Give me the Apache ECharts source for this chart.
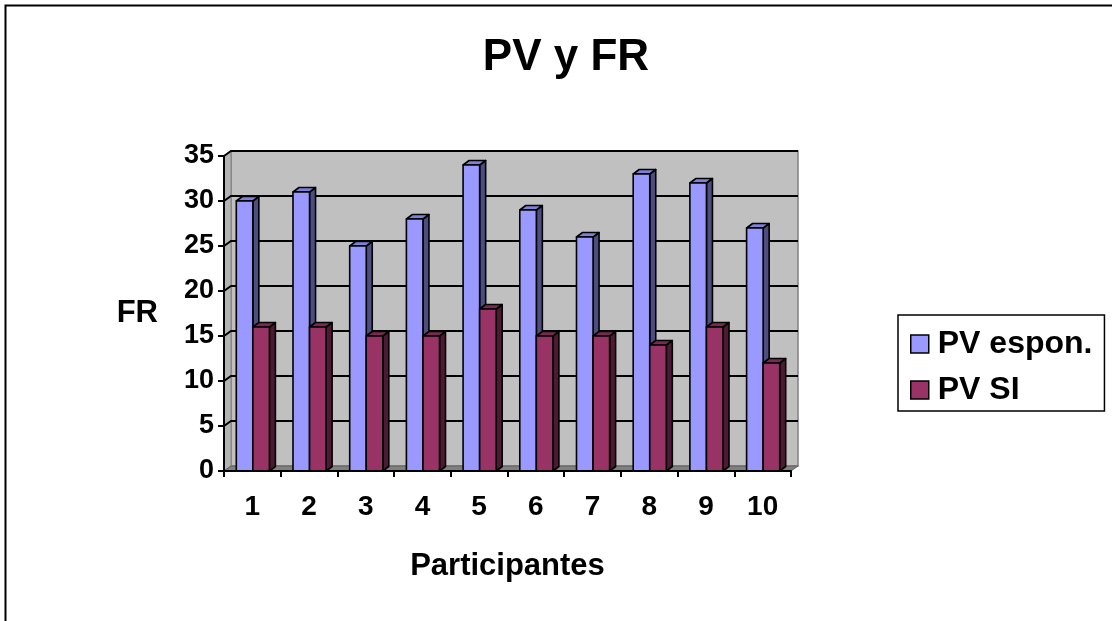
<!DOCTYPE html>
<html>
<head>
<meta charset="utf-8">
<title>PV y FR</title>
<script src="https://cdn.jsdelivr.net/npm/echarts@6/dist/echarts.min.js"></script>
<style>
  html, body { margin: 0; padding: 0; background: #ffffff; }
  #chart { width: 1112px; height: 621px; }
</style>
</head>
<body>
<div id="chart"></div>
<script>
// Participants on the x axis, FR values for the two conditions
const participants = ['1', '2', '3', '4', '5', '6', '7', '8', '9', '10'];
const pvEspon = [30, 31, 25, 28, 34, 29, 26, 33, 32, 27];
const pvSI = [16, 16, 15, 15, 18, 15, 15, 14, 16, 12];
const frTicks = [0, 5, 10, 15, 20, 25, 30, 35];

// Depth offsets of the pseudo-3D look (wall and bar boxes)
const WALL_DX = 7, WALL_DY = -5;
const BAR_DX = 6, BAR_DY = -4.5;
const FONT = 'Liberation Sans, Arial, sans-serif';

// Back wall, side wall, floor and gridlines drawn behind the bars
function renderWall(params, api) {
  const cs = params.coordSys;
  const x = cs.x, y = cs.y, w = cs.width, h = cs.height;
  const v = api.value(0);
  const children = [];
  if (params.dataIndex === 0) {
    children.push({
      type: 'rect',
      shape: { x: x + WALL_DX, y: y + WALL_DY, width: w, height: h },
      style: { fill: '#c0c0c0', stroke: '#808080', lineWidth: 1.5 }
    });
    children.push({
      type: 'polygon',
      shape: { points: [[x, y], [x + WALL_DX, y + WALL_DY], [x + WALL_DX, y + h + WALL_DY], [x, y + h]] },
      style: { fill: '#b4b4b4', stroke: '#808080', lineWidth: 1 }
    });
    children.push({
      type: 'polygon',
      shape: { points: [[x, y + h], [x + WALL_DX, y + h + WALL_DY], [x + w + WALL_DX, y + h + WALL_DY], [x + w, y + h]] },
      style: { fill: '#808080', stroke: '#606060', lineWidth: 1 }
    });
  }
  if (v > 0) {
    const py = api.coord([0, v])[1];
    children.push({
      type: 'polyline',
      shape: { points: [[x, py], [x + WALL_DX, py + WALL_DY], [x + w + WALL_DX, py + WALL_DY]] },
      style: { fill: null, stroke: '#000000', lineWidth: 2 }
    });
  }
  return { type: 'group', children: children };
}

// A box-shaped bar: front face, right side and top
function makeBarRenderer(offsetSide, front, side, top) {
  return function (params, api) {
    const idx = api.value(0);
    const val = api.value(1);
    const base = api.coord([idx, 0]);
    const head = api.coord([idx, val]);
    const band = api.size([1, 0])[0];
    const bw = band * 0.292;
    const x0 = offsetSide < 0 ? base[0] - bw + 0.5 : base[0] + 0.5;
    const x1 = x0 + bw;
    const yt = head[1], yb = base[1];
    const stroke = { stroke: '#000000', lineWidth: 1.6, lineJoin: 'round' };
    return {
      type: 'group',
      children: [
        {
          type: 'polygon',
          shape: { points: [[x1, yt], [x1 + BAR_DX, yt + BAR_DY], [x1 + BAR_DX, yb + BAR_DY], [x1, yb]] },
          style: Object.assign({ fill: side }, stroke)
        },
        {
          type: 'polygon',
          shape: { points: [[x0, yt], [x0 + BAR_DX, yt + BAR_DY], [x1 + BAR_DX, yt + BAR_DY], [x1, yt]] },
          style: Object.assign({ fill: top }, stroke)
        },
        {
          type: 'rect',
          shape: { x: x0, y: yt, width: bw, height: yb - yt },
          style: Object.assign({ fill: front }, stroke)
        }
      ]
    };
  };
}

const chart = echarts.init(document.getElementById('chart'), null, { renderer: 'canvas' });

chart.setOption({
  backgroundColor: '#ffffff',
  animation: false,
  title: {
    text: 'PV y FR',
    left: 561,
    top: 31,
    textAlign: 'center',
    textStyle: { fontFamily: FONT, fontWeight: 'bold', fontSize: 44, color: '#000000' }
  },
  graphic: [{
    type: 'rect',
    left: 3, top: 3, z: 100,
    shape: { x: 0, y: 0, width: 1300, height: 800 },
    style: { fill: null, stroke: '#000000', lineWidth: 2 }
  }],
  legend: {
    orient: 'vertical',
    left: 898,
    top: 315,
    padding: [12, 12, 4, 12],
    itemGap: 12,
    itemWidth: 18,
    itemHeight: 18,
    borderColor: '#000000',
    borderWidth: 1.5,
    icon: 'rect',
    textStyle: { fontFamily: FONT, fontWeight: 'bold', fontSize: 32, color: '#000000', lineHeight: 34, padding: [0, 0, 0, 4] },
    data: [
      { name: 'PV espon.', itemStyle: { color: '#9999ff', borderColor: '#000000', borderWidth: 1.5 } },
      { name: 'PV SI', itemStyle: { color: '#993366', borderColor: '#000000', borderWidth: 1.5 } }
    ]
  },
  grid: { left: 224, top: 156, width: 567, height: 315 },
  xAxis: {
    type: 'category',
    data: participants,
    boundaryGap: true,
    z: 5,
    name: 'Participantes',
    nameLocation: 'middle',
    nameGap: 80,
    nameTextStyle: { fontFamily: FONT, fontWeight: 'bold', fontSize: 31, color: '#000000' },
    axisLine: { lineStyle: { color: '#000000', width: 2 } },
    axisTick: { show: true, interval: 0, length: 6, lineStyle: { color: '#000000', width: 2 } },
    axisLabel: { margin: 22, fontFamily: FONT, fontWeight: 'bold', fontSize: 28, color: '#000000' },
    splitLine: { show: false }
  },
  yAxis: {
    type: 'value',
    min: 0,
    max: 35,
    interval: 5,
    z: 5,
    name: 'FR',
    nameLocation: 'middle',
    nameRotate: 0,
    nameGap: 66,
    nameTextStyle: { fontFamily: FONT, fontWeight: 'bold', fontSize: 31, color: '#000000' },
    axisLine: { show: true, lineStyle: { color: '#000000', width: 2 } },
    axisTick: { show: true, length: 6, lineStyle: { color: '#000000', width: 2 } },
    axisLabel: { margin: 10, fontFamily: FONT, fontWeight: 'bold', fontSize: 27, color: '#000000' },
    splitLine: { show: false }
  },
  series: [
    {
      type: 'custom',
      name: 'wall',
      z: 1,
      silent: true,
      renderItem: renderWall,
      encode: { y: 0 },
      data: frTicks.map(function (t) { return [t]; })
    },
    {
      type: 'custom',
      name: 'PV espon.',
      z: 2,
      renderItem: makeBarRenderer(-1, '#9999ff', '#4d4d80', '#8080d8'),
      encode: { x: 0, y: 1 },
      data: pvEspon.map(function (v, i) { return [i, v]; })
    },
    {
      type: 'custom',
      name: 'PV SI',
      z: 3,
      renderItem: makeBarRenderer(1, '#993366', '#4d1a33', '#7a2952'),
      encode: { x: 0, y: 1 },
      data: pvSI.map(function (v, i) { return [i, v]; })
    }
  ]
});
</script>
</body>
</html>
